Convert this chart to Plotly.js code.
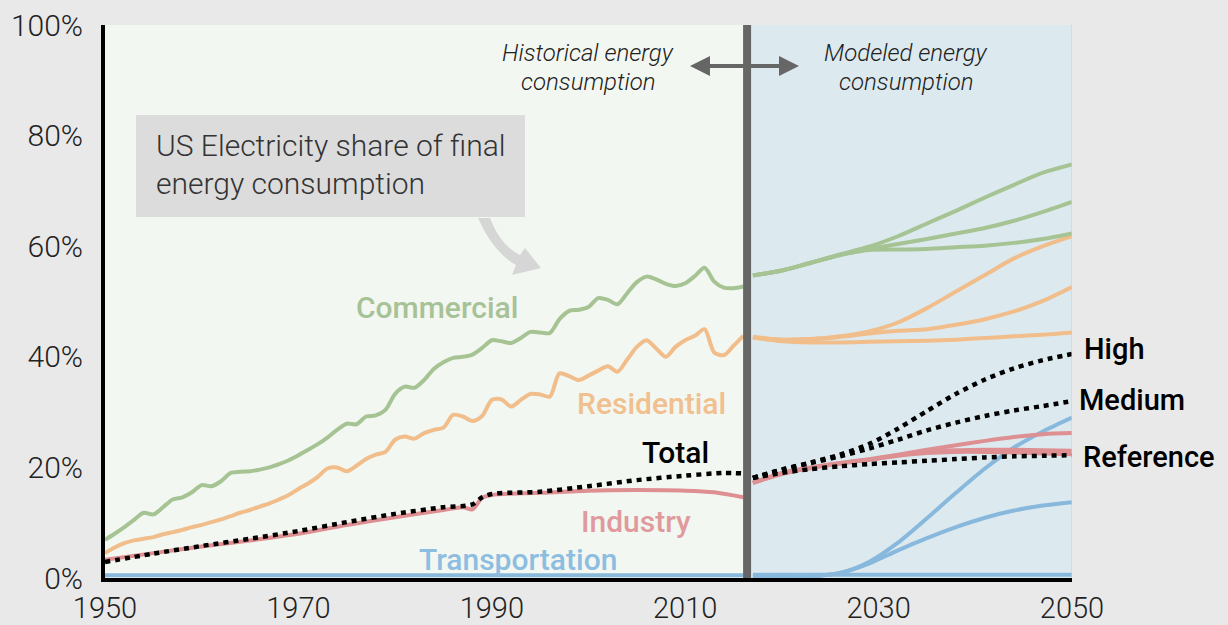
<!DOCTYPE html>
<html>
<head>
<meta charset="utf-8">
<script src="https://cdn.plot.ly/plotly-3.0.1.min.js"></script>
<style>
html,body{margin:0;padding:0;background:#e9e9e9;}
#chart{width:1228px;height:625px;}
</style>
</head>
<body>
<div id="chart"></div>
<script>
// ---------------- DATA ----------------
var histYears = [1950,1951,1952,1953,1954,1955,1956,1957,1958,1959,1960,1961,1962,1963,1964,1965,1966,1967,1968,1969,
  1970,1971,1972,1973,1974,1975,1976,1977,1978,1979,1980,1981,1982,1983,1984,1985,1986,1987,1988,1989,
  1990,1991,1992,1993,1994,1995,1996,1997,1998,1999,2000,2001,2002,2003,2004,2005,2006,2007,2008,2009,
  2010,2011,2012,2013,2014,2015,2016];
var commercialHist = [6.9,8.0,9.2,10.5,11.8,11.5,12.8,14.2,14.6,15.5,16.8,16.6,17.5,19.0,19.2,19.3,19.6,20.0,20.6,21.3,
  22.2,23.2,24.2,25.4,26.8,27.9,27.8,29.2,29.4,30.4,33.3,34.6,34.4,35.8,37.8,39.0,39.8,40.0,40.4,41.6,
  43.0,42.8,42.5,43.4,44.5,44.4,44.3,46.8,48.3,48.5,49.0,50.6,50.3,49.5,51.5,53.5,54.5,54.0,53.2,52.8,
  53.3,54.6,56.1,53.6,52.5,52.4,52.7];
var residentialHist = [4.5,5.5,6.3,6.8,7.1,7.4,7.9,8.3,8.7,9.2,9.6,10.1,10.6,11.2,11.8,12.3,12.9,13.5,14.2,15.0,
  16.1,17.1,18.3,19.8,20.0,19.3,20.3,21.5,22.3,22.8,25.0,25.6,25.2,26.2,26.8,27.2,29.5,29.2,28.4,29.3,
  32.2,32.3,31.0,32.2,33.3,33.2,32.8,37.0,36.5,35.8,36.6,37.5,38.3,37.3,39.5,41.8,43.0,41.5,40.0,41.8,
  43.0,43.8,45.0,40.8,40.3,42.0,43.8];
var industryYears = [1950,1955,1960,1965,1970,1975,1980,1985,1987,1988,1989,1990,1995,2000,2005,2010,2013,2016];
var industryHist  = [3.3,4.5,5.7,6.8,8.0,9.6,11.0,12.3,12.8,12.4,14.5,15.0,15.4,15.8,15.9,15.8,15.5,14.6];
var totalYears = [1950,1955,1960,1965,1970,1975,1980,1985,1988,1989,1990,1995,2000,2005,2010,2014,2016];
var totalHist  = [2.9,4.4,5.8,7.1,8.5,10.1,11.6,12.8,13.3,14.6,15.2,15.6,16.6,17.7,18.5,19.0,18.9];
var transportYears = [1950,2016];
var transportHist  = [0.5,0.5];

var projYears = [2017,2020,2023,2026,2029,2032,2035,2038,2041,2044,2047,2050];
var commercialRef  = [54.7,55.6,57.0,58.4,59.3,59.4,59.5,59.8,60.1,60.6,61.3,62.3];
var commercialMed  = [54.7,55.6,57.0,58.4,59.5,60.4,61.3,62.3,63.3,64.6,66.2,68.0];
var commercialHigh = [54.7,55.6,57.0,58.5,59.9,61.8,64.1,66.4,68.8,71.1,73.3,74.8];
var residentialRef  = [43.5,42.8,42.6,42.6,42.7,42.8,42.9,43.1,43.4,43.7,44.0,44.4];
var residentialMed  = [43.6,43.1,43.2,43.6,44.2,44.7,45.0,45.8,46.8,48.2,50.1,52.6];
var residentialHigh = [43.6,43.1,43.2,43.7,44.6,46.2,48.8,51.8,54.8,57.8,60.0,61.8];
var industryRef  = [17.2,18.8,19.9,20.7,21.4,22.1,22.6,22.8,22.8,22.7,22.5,22.4];
var industryMed  = [17.2,18.9,19.9,20.7,21.4,22.2,22.8,23.1,23.2,23.2,23.1,23.0];
var industryHigh = [17.2,19.0,20.0,20.8,21.5,22.3,23.2,24.0,24.8,25.5,26.0,26.2];
var transportRef  = [0.6,0.6,0.6,0.6,0.6,0.6,0.6,0.6,0.6,0.6,0.6,0.6];
var transportMed  = [0.3,0.2,0.3,0.9,2.6,5.0,7.2,9.2,10.9,12.2,13.1,13.7];
var transportHigh = [0.3,0.2,0.3,0.9,2.9,6.4,10.8,15.4,19.8,23.6,26.5,29.0];
var totalRef  = [18.1,19.0,19.7,20.2,20.6,20.9,21.2,21.5,21.8,22.0,22.1,22.2];
var totalMed  = [18.1,19.6,20.8,22.0,23.4,25.0,26.7,28.1,29.3,30.3,31.1,32.0];
var totalHigh = [18.1,19.6,20.9,22.3,24.2,27.0,30.2,33.3,35.9,37.9,39.4,40.5];

var xTickVals = [1950,1970,1990,2010,2030,2050];
var xTickText = ['1950','1970','1990','2010','2030','2050'];
var yTickVals = [0,20,40,60,80,100];
var yTickText = ['0%','20%','40%','60%','80%','100%'];
var scenarioLabels = ['High','Medium','Reference'];
var splitYear = 2016.4;

// ---------------- STYLE ----------------
var GREEN='#a6c393', ORANGE='#f1bd8a', PINK='#de8f92', BLUE='#88b8dc';
var FONT='Roboto, Arial, sans-serif';
function line(x,y,color,dash,shape){
  return {x:x,y:y,type:'scatter',mode:'lines',hoverinfo:'skip',showlegend:false,
    line:{color:color,width:dash?4.5:4,dash:dash||'solid',shape:shape||'spline',smoothing:0.8}};
}
var DOT='5px,5px';
var traces=[
  line(transportYears,transportHist,BLUE,null,'linear'),
  line(projYears,transportRef,BLUE),line(projYears,transportMed,BLUE),line(projYears,transportHigh,BLUE),
  line(industryYears,industryHist,PINK),
  line(projYears,industryRef,PINK),line(projYears,industryMed,PINK),line(projYears,industryHigh,PINK),
  line(histYears,residentialHist,ORANGE),
  line(projYears,residentialRef,ORANGE),line(projYears,residentialMed,ORANGE),line(projYears,residentialHigh,ORANGE),
  line(histYears,commercialHist,GREEN),
  line(projYears,commercialRef,GREEN),line(projYears,commercialMed,GREEN),line(projYears,commercialHigh,GREEN),
  line(totalYears,totalHist,'#000',DOT),
  line(projYears,totalRef,'#000',DOT),line(projYears,totalMed,'#000',DOT),line(projYears,totalHigh,'#000',DOT)
];

// pixel helpers for annotation placement (plot area 105..1072 x 25..578)
function PX(p){return (p-105)/967;}
function PY(p){return (578-p)/553;}
function txt(xp,yp,text,font,xa){
  return {xref:'paper',yref:'paper',x:PX(xp),y:PY(yp),xanchor:xa||'center',yanchor:'middle',
    text:text,showarrow:false,font:font};
}
function lf(c,s){return {family:FONT,size:s||30,color:c,weight:500};}
var boxFont={family:FONT,size:30,color:'#333',weight:300};
var itFont={family:FONT,size:24,color:'#222',weight:300};
var annotations=[
  txt(437,308,'Commercial',lf('#a7c296')),
  txt(651,403,'Residential',lf('#f0c08f')),
  txt(675,452,'Total',lf('#000')),
  txt(636,521,'Industry',lf('#e09a9d')),
  txt(518,559,'Transportation',lf('#8dbde0')),
  txt(1082,349,scenarioLabels[0],lf('#000',29),'left'),
  txt(1077,400,scenarioLabels[1],lf('#000',29),'left'),
  txt(1081,457,scenarioLabels[2],lf('#000',29),'left'),
  txt(154,145,'US Electricity share of final',boxFont,'left'),
  txt(154,183,'energy consumption',boxFont,'left'),
  txt(588,53,'<i>Historical energy</i>',itFont),
  txt(588,82,'<i>consumption</i>',itFont),
  txt(906,53,'<i>Modeled energy</i>',itFont),
  txt(906,82,'<i>consumption</i>',itFont),
  // double arrow
  {xref:'paper',yref:'paper',x:PX(690),y:PY(66),ax:56,ay:0,text:'',showarrow:true,arrowhead:2,arrowsize:1,arrowwidth:4,arrowcolor:'#666'},
  {xref:'paper',yref:'paper',x:PX(799),y:PY(66),ax:-56,ay:0,text:'',showarrow:true,arrowhead:2,arrowsize:1,arrowwidth:4,arrowcolor:'#666'}
];

// pixel -> data for the callout path
function DX(p){return 1950+(p-105)/9.67;}
function DY(p){return (578-p)/5.53;}
var arrowPath = 'M'+DX(490)+','+DY(218)+' Q'+DX(500)+','+DY(245)+' '+DX(520)+','+DY(255)+
  ' L'+DX(525)+','+DY(248)+' L'+DX(541)+','+DY(268)+' L'+DX(512)+','+DY(275)+' L'+DX(516)+','+DY(265)+
  ' Q'+DX(493)+','+DY(252)+' '+DX(478)+','+DY(218)+' Z';

var shapes=[
  {type:'rect',xref:'x',yref:'y',x0:1950,x1:splitYear,y0:0,y1:100,fillcolor:'#f3f7f1',line:{width:0},layer:'below'},
  {type:'rect',xref:'x',yref:'y',x0:splitYear,x1:2050,y0:0,y1:100,fillcolor:'#dceaf0',line:{width:0},layer:'below'},
  {type:'line',xref:'x',yref:'y',x0:2050,x1:2050,y0:0,y1:100,line:{color:'#cfcfcf',width:1}},
  {type:'rect',xref:'x',yref:'y',x0:DX(136),x1:DX(525),y0:DY(217),y1:DY(115),fillcolor:'#dcdcdc',line:{width:0}},
  {type:'path',xref:'x',yref:'y',path:arrowPath,fillcolor:'#d6d6d6',line:{width:0}},
  {type:'line',xref:'x',yref:'y',x0:splitYear,x1:splitYear,y0:0,y1:100,line:{color:'#666666',width:8},layer:'above'}
];

var layout={
  width:1228,height:625,
  paper_bgcolor:'#e9e9e9',plot_bgcolor:'#f3f7f1',
  margin:{l:105,r:156,t:25,b:47},
  showlegend:false,
  xaxis:{range:[1950,2050],showgrid:false,zeroline:false,showline:true,linecolor:'#000',linewidth:4,
    tickmode:'array',tickvals:xTickVals,ticktext:xTickText,ticks:'outside',ticklen:1,tickcolor:'rgba(0,0,0,0)',
    tickfont:{family:FONT,size:29,color:'#222',weight:300},fixedrange:true},
  yaxis:{range:[0,100],showgrid:false,zeroline:false,showline:true,linecolor:'#000',linewidth:4,
    tickmode:'array',tickvals:yTickVals,ticktext:yTickText,ticks:'outside',ticklen:12,tickcolor:'rgba(0,0,0,0)',
    tickfont:{family:FONT,size:30,color:'#222',weight:300},fixedrange:true},
  shapes:shapes,
  annotations:annotations
};
Plotly.newPlot('chart',traces,layout,{displayModeBar:false,staticPlot:true});
</script>
</body>
</html>
